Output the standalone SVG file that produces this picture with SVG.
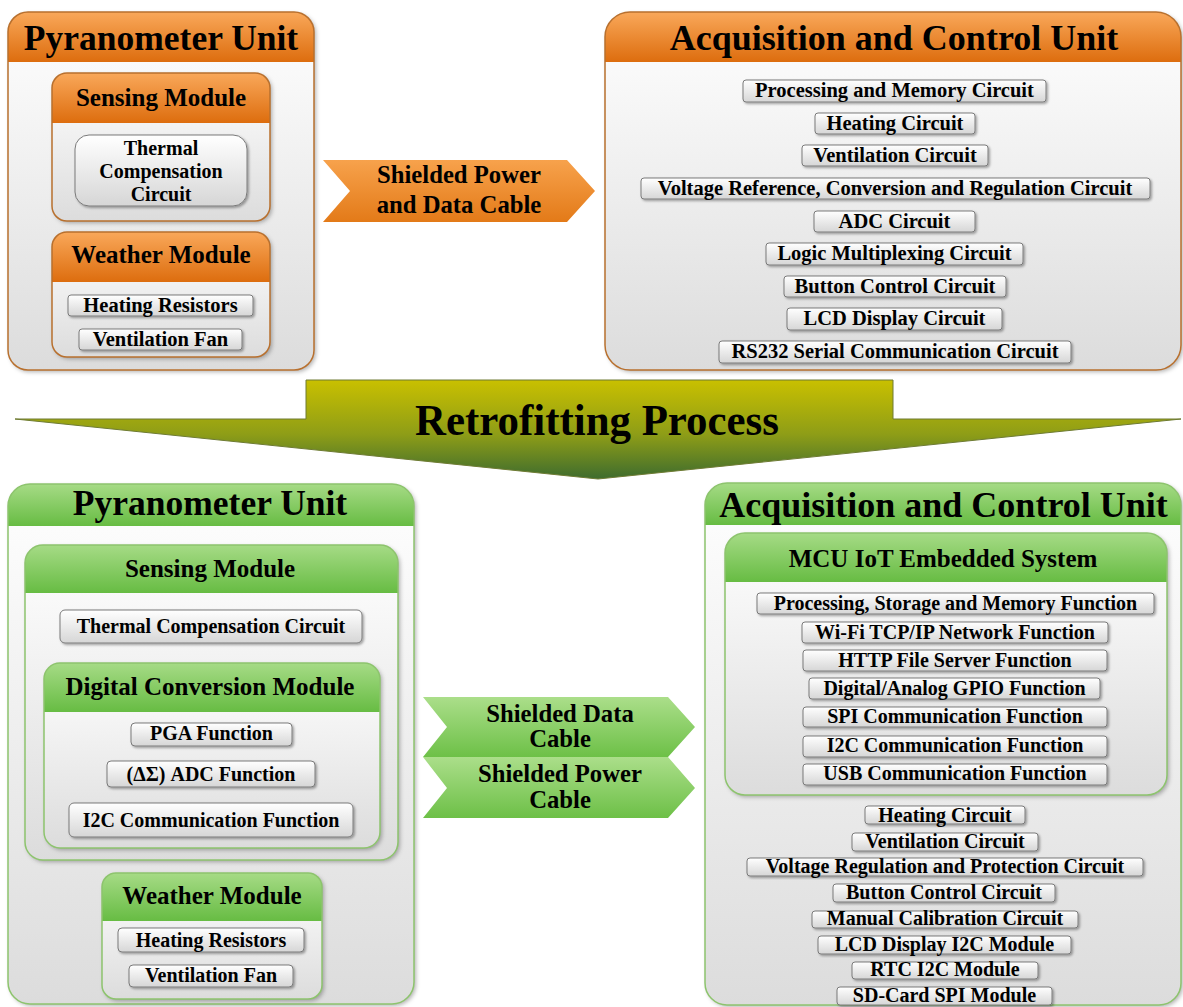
<svg xmlns="http://www.w3.org/2000/svg" width="1183" height="1007" viewBox="0 0 1183 1007">
<defs>
<linearGradient id="orH" x1="0" y1="0" x2="0" y2="1"><stop offset="0" stop-color="#F9A85A"/><stop offset="1" stop-color="#DD6D0E"/></linearGradient>
<linearGradient id="grH" x1="0" y1="0" x2="0" y2="1"><stop offset="0" stop-color="#A6DB86"/><stop offset="1" stop-color="#67BC43"/></linearGradient>
<linearGradient id="body" x1="0" y1="0" x2="0" y2="1"><stop offset="0" stop-color="#FFFFFF"/><stop offset="1" stop-color="#DCDCDC"/></linearGradient>
<linearGradient id="itemG" x1="0" y1="0" x2="0" y2="1"><stop offset="0" stop-color="#FFFFFF"/><stop offset="1" stop-color="#D6D6D6"/></linearGradient>
<linearGradient id="orC" x1="0" y1="0" x2="0" y2="1"><stop offset="0" stop-color="#F7A24C"/><stop offset="1" stop-color="#E37A18"/></linearGradient>
<linearGradient id="grC" x1="0" y1="0" x2="0" y2="1"><stop offset="0" stop-color="#ABDE8A"/><stop offset="1" stop-color="#6DC047"/></linearGradient>
<linearGradient id="olv" x1="0" y1="0" x2="0" y2="1"><stop offset="0" stop-color="#C9C000"/><stop offset="0.55" stop-color="#8E9D17"/><stop offset="1" stop-color="#3E6C2E"/></linearGradient>
<filter id="sh" x="-5%" y="-5%" width="115%" height="125%"><feDropShadow dx="1.5" dy="1.5" stdDeviation="1" flood-color="#000" flood-opacity="0.35"/></filter>
<filter id="shB" x="-5%" y="-5%" width="112%" height="112%"><feDropShadow dx="2" dy="2" stdDeviation="2" flood-color="#000" flood-opacity="0.3"/></filter>
</defs>
<style>
.t{font-family:"Liberation Serif","Times New Roman",serif;font-weight:bold;fill:#000;text-anchor:middle}
.ti{font-size:35.5px}
.md{font-size:25px}
.it{font-size:20px}
.it2{font-size:20.5px}
.cb{font-size:24.7px}
.bx{fill:url(#itemG);stroke:#7A7A7A;stroke-width:1;filter:url(#sh)}
.bo{fill:url(#body);filter:url(#shB)}
.oh{fill:url(#orH)}
.gh{fill:url(#grH)}
.ob{fill:none;stroke:#B8702E;stroke-width:1.5}
.gb{fill:none;stroke:#8DC46D;stroke-width:1.5}
</style>
<rect width="1183" height="1007" fill="#FFFFFF"/>

<g id="top-pyranometer-unit">
<rect class="bo" x="8" y="12" width="306" height="358" rx="20"/>
<path class="oh" d="M8,62 V32 A20 20 0 0 1 28,12 H294 A20 20 0 0 1 314,32 V62 Z"/>
<rect class="ob" x="8" y="12" width="306" height="358" rx="20"/>
<text class="t ti" x="161" y="50">Pyranometer Unit</text>
</g>
<g id="top-sensing-module">
<rect class="bo" x="52" y="73" width="218" height="148" rx="15"/>
<path class="oh" d="M52,123 V88 A15 15 0 0 1 67,73 H255 A15 15 0 0 1 270,88 V123 Z"/>
<rect class="ob" x="52" y="73" width="218" height="148" rx="15"/>
<text class="t md" x="161" y="106">Sensing Module</text>
</g>
<g id="top-thermal-compensation">
<rect class="bx" x="75" y="135" width="172" height="71" rx="14"/>
<text class="t it" x="161" y="155">Thermal</text>
<text class="t it" x="161" y="178">Compensation</text>
<text class="t it" x="161" y="201">Circuit</text>
</g>
<g id="top-weather-module">
<rect class="bo" x="52" y="232" width="218" height="125" rx="15"/>
<path class="oh" d="M52,282 V247 A15 15 0 0 1 67,232 H255 A15 15 0 0 1 270,247 V282 Z"/>
<rect class="ob" x="52" y="232" width="218" height="125" rx="15"/>
<text class="t md" x="161" y="263">Weather Module</text>
<rect class="bx" x="68" y="295" width="185" height="21" rx="3"/>
<text class="t it2" x="160.5" y="312">Heating Resistors</text>
<rect class="bx" x="79" y="329" width="163" height="21" rx="3"/>
<text class="t it2" x="160.5" y="346">Ventilation Fan</text>
</g>

<g id="top-acquisition-unit">
<rect class="bo" x="605" y="12" width="576" height="358" rx="25"/>
<path class="oh" d="M605,62 V37 A25 25 0 0 1 630,12 H1156 A25 25 0 0 1 1181,37 V62 Z"/>
<rect class="ob" x="605" y="12" width="576" height="358" rx="25"/>
<text class="t" x="894" y="50" style="font-size:36px">Acquisition and Control Unit</text>
<rect class="bx" x="743" y="80" width="303" height="22" rx="3"/>
<text class="t it2" x="894.5" y="97">Processing and Memory Circuit</text>
<rect class="bx" x="815" y="113" width="160" height="21" rx="3"/>
<text class="t it2" x="895" y="130">Heating Circuit</text>
<rect class="bx" x="802" y="145" width="186" height="21" rx="3"/>
<text class="t it2" x="895" y="162">Ventilation Circuit</text>
<rect class="bx" x="641" y="178" width="509" height="21" rx="3"/>
<text class="t it2" x="895" y="195">Voltage Reference, Conversion and Regulation Circuit</text>
<rect class="bx" x="814" y="211" width="161" height="21" rx="3"/>
<text class="t it2" x="894.5" y="228">ADC Circuit</text>
<rect class="bx" x="766" y="243" width="257" height="22" rx="3"/>
<text class="t it2" x="894.5" y="260">Logic Multiplexing Circuit</text>
<rect class="bx" x="784" y="276" width="222" height="21" rx="3"/>
<text class="t it2" x="895" y="293">Button Control Circuit</text>
<rect class="bx" x="787" y="308" width="215" height="22" rx="3"/>
<text class="t it2" x="894.5" y="325">LCD Display Circuit</text>
<rect class="bx" x="719" y="341" width="352" height="22" rx="3"/>
<text class="t it2" x="895" y="358">RS232 Serial Communication Circuit</text>
</g>

<g id="bottom-pyranometer-unit">
<rect class="bo" x="8" y="484" width="406" height="520" rx="22"/>
<path class="gh" d="M8,526 V506 A22 22 0 0 1 30,484 H392 A22 22 0 0 1 414,506 V526 Z"/>
<rect class="gb" x="8" y="484" width="406" height="520" rx="22"/>
<text class="t ti" x="210" y="515">Pyranometer Unit</text>
</g>
<g id="bottom-sensing-module">
<rect class="bo" x="25" y="545" width="373" height="315" rx="18"/>
<path class="gh" d="M25,593 V563 A18 18 0 0 1 43,545 H380 A18 18 0 0 1 398,563 V593 Z"/>
<rect class="gb" x="25" y="545" width="373" height="315" rx="18"/>
<text class="t md" x="210" y="577">Sensing Module</text>
<rect class="bx" x="60" y="610" width="302" height="33" rx="5"/>
<text class="t it" x="211" y="633">Thermal Compensation Circuit</text>
</g>
<g id="bottom-digital-conversion-module">
<rect class="bo" x="44" y="663" width="336" height="185" rx="16"/>
<path class="gh" d="M44,712 V679 A16 16 0 0 1 60,663 H364 A16 16 0 0 1 380,679 V712 Z"/>
<rect class="gb" x="44" y="663" width="336" height="185" rx="16"/>
<text class="t md" x="210" y="695">Digital Conversion Module</text>
<rect class="bx" x="131" y="723" width="161" height="23" rx="4"/>
<text class="t it" x="211.5" y="740">PGA Function</text>
<rect class="bx" x="107" y="761" width="208" height="26" rx="4"/>
<text class="t it" x="211" y="781">(ΔΣ) ADC Function</text>
<rect class="bx" x="69" y="803" width="284" height="34" rx="5"/>
<text class="t it" x="211" y="827">I2C Communication Function</text>
</g>
<g id="bottom-weather-module">
<rect class="bo" x="102" y="873" width="220" height="126" rx="14"/>
<path class="gh" d="M102,921 V887 A14 14 0 0 1 116,873 H308 A14 14 0 0 1 322,887 V921 Z"/>
<rect class="gb" x="102" y="873" width="220" height="126" rx="14"/>
<text class="t md" x="212" y="904">Weather Module</text>
<rect class="bx" x="118" y="928" width="186" height="24" rx="4"/>
<text class="t it" x="211" y="947">Heating Resistors</text>
<rect class="bx" x="129" y="965" width="164" height="22" rx="4"/>
<text class="t it" x="211" y="982">Ventilation Fan</text>
</g>

<g id="bottom-acquisition-unit">
<rect class="bo" x="705" y="483" width="476" height="522" rx="22"/>
<path class="gh" d="M705,525 V505 A22 22 0 0 1 727,483 H1159 A22 22 0 0 1 1181,505 V525 Z"/>
<rect class="gb" x="705" y="483" width="476" height="522" rx="22"/>
<text class="t" x="943.5" y="517" style="font-size:36px">Acquisition and Control Unit</text>
<rect class="bx" x="865" y="806" width="160" height="18" rx="3"/>
<text class="t it" x="945" y="822">Heating Circuit</text>
<rect class="bx" x="852" y="833" width="186" height="18" rx="3"/>
<text class="t it" x="945" y="848">Ventilation Circuit</text>
<rect class="bx" x="747" y="858" width="396" height="18" rx="3"/>
<text class="t it" x="945" y="873">Voltage Regulation and Protection Circuit</text>
<rect class="bx" x="833" y="884" width="222" height="18" rx="3"/>
<text class="t it" x="944" y="899">Button Control Circuit</text>
<rect class="bx" x="812" y="911" width="266" height="17" rx="3"/>
<text class="t it" x="945" y="925">Manual Calibration Circuit</text>
<rect class="bx" x="818" y="936" width="253" height="18" rx="3"/>
<text class="t it" x="944.5" y="951">LCD Display I2C Module</text>
<rect class="bx" x="852" y="962" width="186" height="17" rx="3"/>
<text class="t it" x="945" y="976">RTC I2C Module</text>
<rect class="bx" x="837" y="987" width="215" height="18" rx="3"/>
<text class="t it" x="944.5" y="1002">SD-Card SPI Module</text>
</g>
<g id="mcu-iot-embedded-system">
<rect class="bo" x="725" y="533" width="442" height="262" rx="20"/>
<path class="gh" d="M725,582 V553 A20 20 0 0 1 745,533 H1147 A20 20 0 0 1 1167,553 V582 Z"/>
<rect class="gb" x="725" y="533" width="442" height="262" rx="20"/>
<text class="t md" x="943" y="567">MCU IoT Embedded System</text>
<rect class="bx" x="757" y="593" width="397" height="21" rx="3"/>
<text class="t it" x="955.5" y="610">Processing, Storage and Memory Function</text>
<rect class="bx" x="802" y="622" width="306" height="21" rx="3"/>
<text class="t it" x="955" y="639">Wi-Fi TCP/IP Network Function</text>
<rect class="bx" x="803" y="650" width="304" height="21" rx="3"/>
<text class="t it" x="955" y="667">HTTP File Server Function</text>
<rect class="bx" x="809" y="678" width="291" height="21" rx="3"/>
<text class="t it" x="954.5" y="695">Digital/Analog GPIO Function</text>
<rect class="bx" x="803" y="707" width="304" height="20" rx="3"/>
<text class="t it" x="955" y="723">SPI Communication Function</text>
<rect class="bx" x="803" y="736" width="304" height="21" rx="3"/>
<text class="t it" x="955" y="752">I2C Communication Function</text>
<rect class="bx" x="803" y="764" width="304" height="21" rx="3"/>
<text class="t it" x="955" y="780">USB Communication Function</text>
</g>

<g id="connectors">
<g id="cable-top">
<polygon points="323,160 567,160 595,191 567,222 323,222 350,191" fill="url(#orC)"/>
<text class="t cb" x="459" y="183">Shielded Power</text>
<text class="t cb" x="459" y="213">and Data Cable</text>
</g>
<g id="retrofitting-arrow">
<polygon points="306,380 893,380 893,419 1181,419 598,479 15,419 306,419" fill="url(#olv)" stroke="#6E7B33" stroke-width="1"/>
<text class="t" x="597" y="435" style="font-size:45px" textLength="364" lengthAdjust="spacingAndGlyphs">Retrofitting Process</text>
</g>
<g id="cable-data">
<polygon points="423,697 668,697 695,727 668,757 423,757 447,727" fill="url(#grC)"/>
<text class="t cb" x="560" y="722">Shielded Data</text>
<text class="t cb" x="560" y="747">Cable</text>
</g>
<g id="cable-power">
<polygon points="423,757 668,757 695,788 668,818 423,818 447,788" fill="url(#grC)"/>
<text class="t cb" x="560" y="782">Shielded Power</text>
<text class="t cb" x="560" y="808">Cable</text>
</g>
</g>
</svg>
